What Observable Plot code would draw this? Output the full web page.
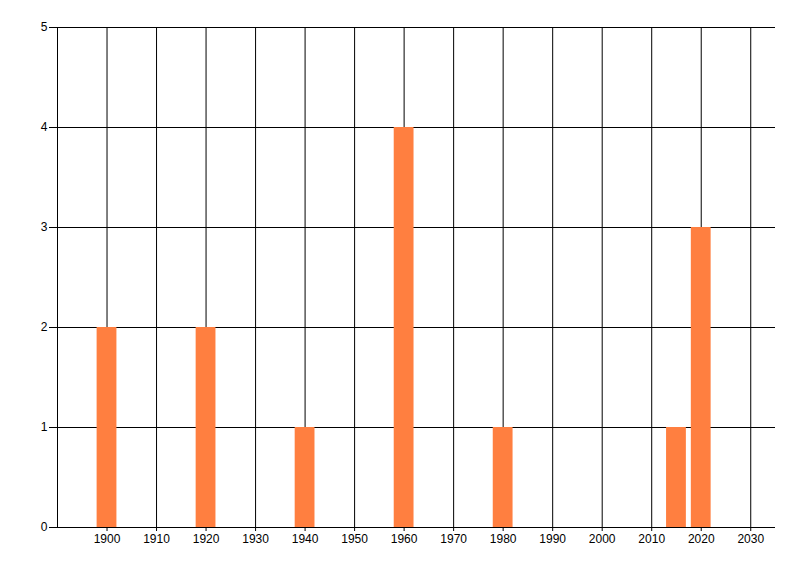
<!DOCTYPE html>
<html>
<head>
<meta charset="utf-8">
<script src="https://cdn.jsdelivr.net/npm/d3@7"></script>
<script src="https://cdn.jsdelivr.net/npm/@observablehq/plot@0.6"></script>
<style>
  html, body { margin: 0; padding: 0; background: #fff; }
  #chart svg { display: block; }
</style>
</head>
<body>
<div id="chart"></div>
<script>
const years = [1900, 1920, 1940, 1960, 1980, 2015, 2020];
const counts = [2, 2, 1, 4, 1, 1, 3];
const xTicks = [1900, 1910, 1920, 1930, 1940, 1950, 1960, 1970, 1980, 1990, 2000, 2010, 2020, 2030];
const yTicks = [0, 1, 2, 3, 4, 5];

const data = years.map((y, i) => ({year: y, count: counts[i]}));
const half = 2;

const chart = Plot.plot({
  width: 800,
  height: 576,
  marginLeft: 57,
  marginRight: 25,
  marginTop: 27,
  marginBottom: 49,
  style: {fontFamily: "'Liberation Sans Narrow', 'Liberation Sans', Arial, sans-serif", fontSize: "12px", background: "#fff", color: "#000"},
  x: {type: "linear", domain: [1890, 2035]},
  y: {domain: [0, 5]},
  marks: [
    Plot.ruleX(xTicks, {y1: 0, y2: 5, stroke: "#000", strokeWidth: 1}),
    Plot.ruleY(yTicks, {x1: 1890, x2: 2035, stroke: "#000", strokeWidth: 1}),
    Plot.ruleX([1890], {y1: 0, y2: 5, stroke: "#000", strokeWidth: 1}),
    Plot.rectY(data, {x1: d => d.year - half, x2: d => d.year + half, y1: 0, y2: "count", fill: "#FF7F40", inset: 0}),
    Plot.axisX({ticks: xTicks, tickFormat: d => String(d), tickSize: 4, tickPadding: 3, label: null, stroke: "#000"}),
    Plot.axisY({ticks: yTicks, tickFormat: d => String(d), tickSize: 8, tickPadding: 2, label: null, stroke: "#000"})
  ]
});
document.getElementById("chart").appendChild(chart);
</script>
</body>
</html>
